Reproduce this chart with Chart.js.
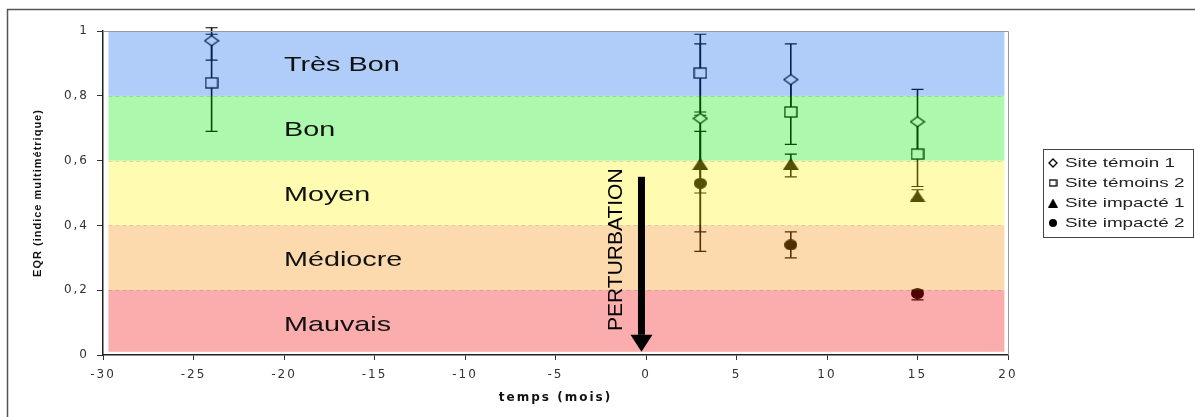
<!DOCTYPE html>
<html>
<head>
<meta charset="utf-8">
<script src="https://cdn.jsdelivr.net/npm/chart.js@4.4.1/dist/chart.umd.min.js"></script>
<style>
  html, body { margin: 0; padding: 0; background: #fff; }
  canvas { display: block; }
</style>
</head>
<body>
<canvas id="eqrChart" width="1195" height="417"></canvas>
<script>
// data
const xTicks = [-30, -25, -20, -15, -10, -5, 0, 5, 10, 15, 20];
const yTicks = [0, 0.2, 0.4, 0.6, 0.8, 1];
const seriesNames = ['Site témoin 1', 'Site témoins 2', 'Site impacté 1', 'Site impacté 2'];

const temoinMonths = [-24, 3, 8, 15];
const temoin1 = [0.97, 0.73, 0.85, 0.72];
const temoin1Low = [0.91, 0.50, 0.74, 0.62];
const temoin1High = [1.01, 0.96, 0.96, 0.82];
const temoin2 = [0.84, 0.87, 0.75, 0.62];
const temoin2Low = [0.69, 0.75, 0.65, 0.52];
const temoin2High = [0.99, 0.99, 0.85, 0.72];

const impacteMonths = [3, 8, 15];
const impacte1 = [0.59, 0.59, 0.49];
const impacte1Low = [0.38, 0.55, 0.48];
const impacte1High = [0.69, 0.62, 0.51];
const impacte2 = [0.53, 0.34, 0.19];
const impacte2Low = [0.32, 0.30, 0.17];
const impacte2High = [0.74, 0.38, 0.20];

// quality classes, bottom to top (edges are yTicks)
const bandLabels = ['Mauvais', 'Médiocre', 'Moyen', 'Bon', 'Très Bon'];
const bandColors = ['rgb(242,3,3)', 'rgb(248,142,9)', 'rgb(255,242,15)', 'rgb(3,233,3)', 'rgb(15,103,239)'];

const FONT = '"Liberation Sans", Arial, sans-serif';
const TICK_FONT = '"DejaVu Sans", sans-serif';

function makeMarker(w, h, draw) {
  const c = document.createElement('canvas');
  c.width = w;
  c.height = h;
  const g = c.getContext('2d');
  g.lineWidth = 1.3;
  g.strokeStyle = '#000';
  g.fillStyle = '#000';
  draw(g, w, h);
  return c;
}
const diamond = (g, w, h) => {
  g.beginPath();
  g.moveTo(w / 2, 1); g.lineTo(w - 1, h / 2); g.lineTo(w / 2, h - 1); g.lineTo(1, h / 2);
  g.closePath();
  g.fillStyle = '#fff'; g.fill(); g.stroke();
};
const square = (g, w, h) => {
  g.fillStyle = '#fff';
  g.fillRect(1, 1, w - 2, h - 2);
  g.strokeRect(1, 1, w - 2, h - 2);
};
const triangle = (g, w, h) => {
  g.beginPath();
  g.moveTo(w / 2, 0); g.lineTo(w, h); g.lineTo(0, h);
  g.closePath(); g.fill();
};
const ellipse = (g, w, h) => {
  g.beginPath();
  g.ellipse(w / 2, h / 2, w / 2, h / 2, 0, 0, Math.PI * 2);
  g.fill();
};
const markers = [makeMarker(16, 12, diamond), makeMarker(14, 12, square), makeMarker(16, 12, triangle), makeMarker(13, 11, ellipse)];
const legendMarkers = [makeMarker(10, 10, diamond), makeMarker(9, 8, square), makeMarker(10, 9, triangle), makeMarker(8, 8, ellipse)];

const toPoints = (xs, ys) => xs.map((x, i) => ({ x: x, y: ys[i] }));
const errorSets = [
  { xs: temoinMonths, lo: temoin1Low, hi: temoin1High },
  { xs: temoinMonths, lo: temoin2Low, hi: temoin2High },
  { xs: impacteMonths, lo: impacte1Low, hi: impacte1High },
  { xs: impacteMonths, lo: impacte2Low, hi: impacte2High }
];

function spaced(fn, gap) {
  return function () {
    this.ctx.save();
    this.ctx.letterSpacing = gap;
    fn.apply(this, arguments);
    this.ctx.restore();
  };
}

const backdrop = {
  id: 'backdrop',
  beforeDraw(chart) {
    const ctx = chart.ctx;
    ctx.save();
    ctx.fillStyle = '#fff';
    ctx.fillRect(0, 0, chart.width, chart.height);
    ctx.strokeStyle = '#555';
    ctx.lineWidth = 1.5;
    ctx.beginPath();
    ctx.moveTo(7.5, chart.height + 5);
    ctx.lineTo(7.5, 9.5);
    ctx.lineTo(chart.width + 5, 9.5);
    ctx.stroke();
    ctx.restore();
    if (!chart.$spaced) {
      const { x, y } = chart.scales;
      x.drawLabels = spaced(x.drawLabels, '2px');
      y.drawLabels = spaced(y.drawLabels, '2px');
      x.drawTitle = spaced(x.drawTitle, '2px');
      y.drawTitle = spaced(y.drawTitle, '1px');
      chart.$spaced = true;
    }
  }
};

const errorBars = {
  id: 'errorBars',
  beforeDatasetsDraw(chart) {
    const { ctx, scales: { x, y } } = chart;
    ctx.save();
    ctx.strokeStyle = '#000';
    errorSets.forEach(s => {
      s.xs.forEach((v, i) => {
        const px = x.getPixelForValue(v);
        const top = y.getPixelForValue(s.hi[i]);
        const bot = y.getPixelForValue(s.lo[i]);
        ctx.lineWidth = 1.6;
        ctx.beginPath();
        ctx.moveTo(px, top); ctx.lineTo(px, bot);
        ctx.stroke();
        ctx.lineWidth = 1.2;
        ctx.beginPath();
        ctx.moveTo(px - 6, top); ctx.lineTo(px + 6, top);
        ctx.moveTo(px - 6, bot); ctx.lineTo(px + 6, bot);
        ctx.stroke();
      });
    });
    ctx.restore();
  }
};

const overlay = {
  id: 'overlay',
  afterDatasetsDraw(chart) {
    const { ctx, chartArea: area, scales: { x, y } } = chart;
    const left = x.getPixelForValue(-29.7);
    const right = x.getPixelForValue(19.8);
    ctx.save();

    // translucent quality bands over the marks
    ctx.globalAlpha = 0.33;
    bandLabels.forEach((lab, i) => {
      const lo = i === 0 ? 0.01 : yTicks[i];
      const top = y.getPixelForValue(yTicks[i + 1]);
      const bot = y.getPixelForValue(lo);
      ctx.fillStyle = bandColors[i];
      ctx.fillRect(left, top, right - left, bot - top);
    });
    ctx.globalAlpha = 1;

    ctx.strokeStyle = 'rgba(0,0,0,0.13)';
    ctx.lineWidth = 1;
    ctx.setLineDash([4, 3]);
    yTicks.slice(1, -1).forEach(v => {
      const py = Math.round(y.getPixelForValue(v)) + 0.5;
      ctx.beginPath();
      ctx.moveTo(left, py); ctx.lineTo(right, py);
      ctx.stroke();
    });
    ctx.setLineDash([]);

    // plot frame (top and right)
    ctx.strokeStyle = '#9a9a9a';
    ctx.beginPath();
    ctx.moveTo(area.left, area.top + 0.5);
    ctx.lineTo(area.right + 0.5, area.top + 0.5);
    ctx.lineTo(area.right + 0.5, area.bottom);
    ctx.stroke();

    // class names
    ctx.fillStyle = '#111';
    ctx.font = '21px ' + FONT;
    ctx.textBaseline = 'alphabetic';
    bandLabels.forEach((lab, i) => {
      const py = y.getPixelForValue((yTicks[i] + yTicks[i + 1]) / 2) + 8;
      ctx.save();
      ctx.translate(x.getPixelForValue(-20), py);
      ctx.scale(1.37, 1);
      ctx.fillText(lab, 0, 0);
      ctx.restore();
    });

    // disturbance arrow
    const ax = x.getPixelForValue(-0.25);
    const aTop = y.getPixelForValue(0.55);
    const aTip = y.getPixelForValue(0.01);
    ctx.fillStyle = '#000';
    ctx.fillRect(ax - 3.5, aTop, 7, aTip - 17 - aTop);
    ctx.beginPath();
    ctx.moveTo(ax - 11, aTip - 17); ctx.lineTo(ax + 11, aTip - 17); ctx.lineTo(ax, aTip);
    ctx.closePath();
    ctx.fill();

    ctx.save();
    ctx.translate(ax - 19, y.getPixelForValue(0.325));
    ctx.rotate(-Math.PI / 2);
    ctx.textAlign = 'center';
    ctx.font = '21px ' + FONT;
    ctx.fillText('PERTURBATION', 0, 0);
    ctx.restore();

    // legend
    const lx = 1043, ly = 149;
    ctx.fillStyle = '#fff';
    ctx.fillRect(lx, ly, 150, 88);
    ctx.strokeStyle = '#444';
    ctx.lineWidth = 1;
    ctx.strokeRect(lx + 0.5, ly + 0.5, 150, 88);
    ctx.fillStyle = '#222';
    ctx.font = '13px ' + FONT;
    seriesNames.forEach((name, i) => {
      const base = ly + 18 + i * 20;
      const m = legendMarkers[i];
      ctx.drawImage(m, lx + 10 - m.width / 2, base - 4 - m.height / 2);
      ctx.save();
      ctx.translate(lx + 22, base);
      ctx.scale(1.45, 1);
      ctx.fillText(name, 0, 0);
      ctx.restore();
    });
    ctx.restore();
  }
};

new Chart(document.getElementById('eqrChart'), {
  type: 'scatter',
  data: {
    datasets: [
      { label: seriesNames[0], data: toPoints(temoinMonths, temoin1), pointStyle: markers[0] },
      { label: seriesNames[1], data: toPoints(temoinMonths, temoin2), pointStyle: markers[1] },
      { label: seriesNames[2], data: toPoints(impacteMonths, impacte1), pointStyle: markers[2] },
      { label: seriesNames[3], data: toPoints(impacteMonths, impacte2), pointStyle: markers[3] }
    ].map(d => Object.assign(d, { pointRadius: 6, showLine: false, clip: false }))
  },
  options: {
    responsive: false,
    animation: false,
    events: [],
    layout: { padding: { left: 27, right: 187, top: 31, bottom: 12 } },
    plugins: { legend: { display: false }, tooltip: { enabled: false } },
    scales: {
      x: {
        type: 'linear',
        min: xTicks[0],
        max: xTicks[xTicks.length - 1],
        afterBuildTicks: s => { s.ticks = xTicks.map(v => ({ value: v })); },
        afterFit: s => { s.height = 50; },
        grid: { drawOnChartArea: false, tickLength: 5, tickColor: '#333', tickWidth: 1 },
        border: { color: '#222', width: 1.5 },
        ticks: { padding: 8, color: '#333', autoSkip: false, maxRotation: 0, font: { family: TICK_FONT, size: 12 } },
        title: { display: true, text: 'temps (mois)', color: '#111', padding: { top: 0, bottom: 0 }, font: { family: TICK_FONT, size: 12, weight: 'bold' } }
      },
      y: {
        type: 'linear',
        min: yTicks[0],
        max: yTicks[yTicks.length - 1],
        afterBuildTicks: s => { s.ticks = yTicks.map(v => ({ value: v })); },
        afterFit: s => { s.width = 76; },
        grid: { drawOnChartArea: false, tickLength: 6, tickColor: '#333', tickWidth: 1 },
        border: { color: '#222', width: 1.5 },
        ticks: {
          padding: 8,
          color: '#333',
          font: { family: TICK_FONT, size: 12 },
          callback: v => String(Math.round(v * 10) / 10).replace('.', ',')
        },
        title: { display: true, text: 'EQR (indice multimétrique)', color: '#111', padding: { top: 4, bottom: 0 }, font: { family: FONT, size: 11, weight: 'bold' } }
      }
    }
  },
  plugins: [backdrop, errorBars, overlay]
});
</script>
</body>
</html>
